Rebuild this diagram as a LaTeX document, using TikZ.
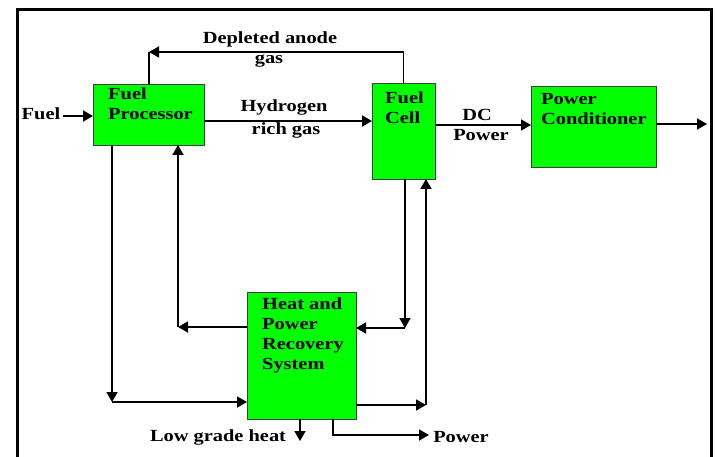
\documentclass[tikz,border=0pt]{standalone}
\usepackage{fontspec}
\setmainfont{Liberation Serif}[FakeStretch=1.2]
\usetikzlibrary{arrows.meta}
\definecolor{boxgreen}{HTML}{00FF00}
\definecolor{boxedge}{HTML}{404040}
\tikzset{
  box/.style={draw=boxedge, line width=0.9pt, fill=boxgreen, inner sep=0pt, outer sep=0pt, anchor=north west},
  boxtext/.style={font=\fontsize{17}{20}\selectfont\bfseries, align=left, inner sep=0pt, anchor=north west},
  lbl/.style={font=\fontsize{17}{20}\selectfont\bfseries, inner sep=0pt, anchor=base},
  conn/.style={line width=1.8pt},
  arr/.style={conn, -{Triangle[length=10pt,width=11pt]}},
}
\begin{document}
\begin{tikzpicture}[x=1pt,y=-1pt]
\useasboundingbox (0,0) rectangle (717,457);
\clip (0,0) rectangle (717,457);
\fill[white] (0,0) rectangle (717,457);
\draw[line width=3pt] (17,470) -- (17,10) -- (711,10) -- (711,470);
% boxes
\node[box, minimum width=111pt, minimum height=61pt] (fp) at (93,84) {};
\node[box, minimum width=63pt, minimum height=96pt] (fc) at (372,83) {};
\node[box, minimum width=125pt, minimum height=81pt] (pc) at (531,86) {};
\node[box, minimum width=109pt, minimum height=127pt] (hp) at (247,292) {};
% box texts
\node[boxtext] (fpt) at (108,88) {Fuel\\Processor};
\node[boxtext] (fct) at (385,92) {Fuel\\Cell};
\node[boxtext] (pct) at (541,93) {Power\\Conditioner};
\node[boxtext] (hpt) at (262,298) {Heat and\\Power\\Recovery\\System};
% labels
\node[lbl] (fuel) at (41,120) {Fuel};
\node[lbl] (dep1) at (270,44) {Depleted anode};
\node[lbl] (dep2) at (269,64) {gas};
\node[lbl] (h1) at (284,112) {Hydrogen};
\node[lbl] (h2) at (286,135) {rich gas};
\node[lbl] (dc1) at (477,121) {DC};
\node[lbl] (dc2) at (481,141) {Power};
\node[lbl] (lgh) at (218,441) {Low grade heat};
\node[lbl] (pwr) at (461,442) {Power};
% coordinates
\coordinate (fin) at (63,116);
\coordinate (dk) at (149,52);
\coordinate (c1) at (112,402);
\coordinate (c2) at (178,327);
\coordinate (c3) at (405,328);
\coordinate (c4) at (426,405);
\coordinate (lg) at (300,441);
\coordinate (pb) at (333,435);
\coordinate (pw) at (429,435);
\coordinate (out) at (707,124);
% connectors
\draw[arr] (fin) -- (fin -| fp.west);
\draw[arr] (fc.north) |- (dk);
\draw[conn] (dk) -- (dk |- fp.north);
\draw[arr] (fp.east |- 0,121) -- (fc.west |- 0,121);
\draw[arr] (fc.east |- 0,125) -- (pc.west |- 0,125);
\draw[arr] (pc.east |- out) -- (out);
\draw[arr] (fp.south -| c1) -- (c1);
\draw[arr] (c1) -- (hp.west |- c1);
\draw[arr] (hp.west |- c2) -- (c2);
\draw[arr] (c2) -- (fp.south -| c2);
\draw[arr] (fc.south -| c3) -- (c3);
\draw[arr] (c3) -- (hp.east |- c3);
\draw[arr] (hp.east |- c4) -- (c4);
\draw[arr] (c4) -- (fc.south -| c4);
\draw[arr] (hp.south -| lg) -- (lg);
\draw[arr] (hp.south -| pb) |- (pw);
\end{tikzpicture}
\end{document}
